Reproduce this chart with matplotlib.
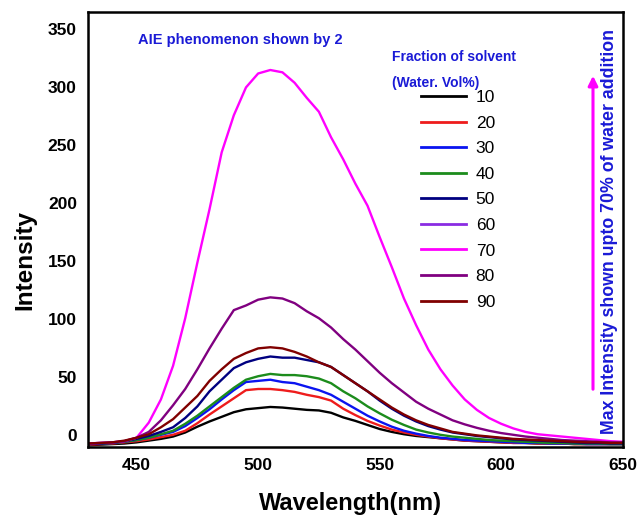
import matplotlib
matplotlib.use("Agg")
import matplotlib.pyplot as plt
from matplotlib.lines import Line2D

plt.rcParams['font.family'] = ['Liberation Sans', 'DejaVu Sans']

# wavelength grid (nm), read every 5 nm
wavelength = list(range(430, 655, 5))

# intensities, one list per water fraction (vol %)
w10 = [-8.5, -8, -7.5, -7, -6, -4.5, -3, -1, 2.5, 7.5, 12, 16, 20, 22.5, 23.5, 24.5,
       24, 23, 22, 21.5, 19.5, 15.5, 12.5, 9, 5.5, 3, 1, -0.5, -1.5, -2.5, -3.5, -4.5,
       -5, -5.5, -6, -6.5, -6.5, -7, -7, -7, -7.5, -7.5, -7.5, -7.5, -7.5]
w20 = [-8, -7.5, -7, -6, -5, -3.5, -1.5, 0.5, 4, 10.5, 18, 25, 32, 39, 40, 40,
       39, 37.5, 35, 33, 30, 23, 17.5, 12.5, 8.5, 5, 2.5, 0.5, -1, -2.5, -3.5, -4.5,
       -5, -5.5, -6, -6.5, -6.5, -7, -7, -7, -7.5, -7.5, -7.5, -7.5, -7.5]
w30 = [-7.5, -7, -6.5, -5.5, -4, -2, 0.5, 3, 8, 15, 22.5, 31, 39, 46, 47, 48,
       46, 45, 42, 39, 35, 29, 23, 17, 12, 7.5, 4, 1.5, -0.5, -2, -3, -4,
       -4.5, -5, -5.5, -6, -6.5, -6.5, -7, -7, -7, -7.5, -7.5, -7.5, -7.5]
w40 = [-7.5, -7, -6.5, -5.5, -4, -2, 1, 4, 10, 17, 25, 33, 41, 48, 51, 53,
       52, 52, 51, 49, 45, 38, 32, 25, 19, 13.5, 9, 5, 2.5, 0.5, -1, -2,
       -3, -4, -4.5, -5, -5.5, -6, -6.5, -6.5, -7, -7, -7, -7.5, -7.5]
w50 = [-7.5, -7, -6.5, -5, -3, -0.5, 3, 7, 15, 25, 38, 48, 58, 63, 66, 68,
       67, 67, 65, 63, 59, 52, 45, 38, 30, 23, 17, 12, 8, 5, 2.5, 1,
       -0.5, -1.5, -2.5, -3.5, -4, -4.5, -5, -5.5, -6, -6.5, -6.5, -7, -7]
w60 = []  # listed in the legend, no curve visible in the picture
w70 = [-7, -6.5, -6, -5, -2, 11, 31, 60, 101, 149, 195, 244, 276, 300, 312, 315,
       313, 304, 291, 279, 257, 238, 217, 198, 171, 145, 118, 95, 74, 57, 43, 31,
       22, 15, 10, 6, 3, 1, 0, -1, -2, -3, -4, -5, -5.5]
w80 = [-7, -6.5, -6, -5, -2, 3, 13, 26, 40, 57, 75, 92, 108, 112, 117, 119,
       118, 114, 107, 101, 93, 83, 74, 64, 54, 45, 37, 29, 23, 18, 13, 9.5,
       6.5, 4, 2, 0.5, -1, -2, -3, -4, -4.5, -5, -5.5, -6, -6]
w90 = [-7, -6.5, -6, -4.5, -2, 1, 7, 14, 24, 34, 47, 57, 66, 71, 75, 76,
       75, 72, 68, 63, 59, 52, 45, 38, 31, 24, 18, 13, 9, 6, 3, 1.5,
       0, -1, -2, -3, -3.5, -4, -4.5, -5, -5.5, -6, -6, -6.5, -6.5]

labels = ['10', '20', '30', '40', '50', '60', '70', '80', '90']
series = [w10, w20, w30, w40, w50, w60, w70, w80, w90]
colors = ['#000000', '#ee1c1c', '#0a14f0', '#1c8c1c', '#000080',
          '#8a2be2', '#ff00ff', '#800080', '#800000']

fig = plt.figure(figsize=(6.4, 5.22), dpi=100)
ax = fig.add_axes([0.1375, 0.1437, 0.8355, 0.8333])

handles = []
for lab, vals, col in zip(labels, series, colors):
    if vals:
        ax.plot(wavelength, vals, color=col, lw=1.7)
    handles.append(Line2D([], [], color=col, lw=2.0, label=lab))

ax.set_xlim(430, 650)
ax.set_ylim(-10, 365)
ax.set_xticks([450, 500, 550, 600, 650])
ax.set_yticks([0, 50, 100, 150, 200, 250, 300, 350])
ax.tick_params(length=0, pad=8, labelsize=12.5)
for t in ax.get_xticklabels() + ax.get_yticklabels():
    t.set_fontweight('bold')
for s in ax.spines.values():
    s.set_linewidth(1.8)

ax.set_xlabel('Wavelength(nm)', fontsize=17, fontweight='bold')
ax.set_ylabel('Intensity', fontsize=17.5, fontweight='bold')
ax.xaxis.set_label_coords(0.49, -0.103)
ax.yaxis.set_label_coords(-0.097, 0.43)

blue = '#1a1ad6'
fig.text(138 / 640, 1 - 40 / 522, 'AIE phenomenon shown by 2', color=blue,
         fontsize=10.5, fontweight='bold', va='center', ha='left')
fig.text(392 / 640, 1 - 57 / 522, 'Fraction of solvent', color=blue,
         fontsize=10, fontweight='bold', va='center', ha='left')
fig.text(392 / 640, 1 - 83 / 522, '(Water. Vol%)', color=blue,
         fontsize=10, fontweight='bold', va='center', ha='left')
fig.text(609 / 640, 1 - 231 / 522, 'Max Intensity shown upto 70% of water addition',
         color=blue, fontsize=12.8, fontweight='bold', rotation=90,
         va='center', ha='center')

fig.patches.append(matplotlib.patches.FancyArrowPatch(
    (593 / 640, 1 - 392 / 522), (593 / 640, 1 - 73 / 522),
    transform=fig.transFigure, arrowstyle='-|>', mutation_scale=14,
    color='#ff00ff', lw=2.2))

leg = ax.legend(handles=handles, loc='upper left',
                bbox_to_anchor=(421 / 640, 1 - 90 / 522),
                bbox_transform=fig.transFigure, frameon=False,
                fontsize=12.5, handlelength=2.6, handletextpad=0.55,
                labelspacing=0.6, borderpad=0, borderaxespad=0)

fig.savefig('out.png', dpi=100)
